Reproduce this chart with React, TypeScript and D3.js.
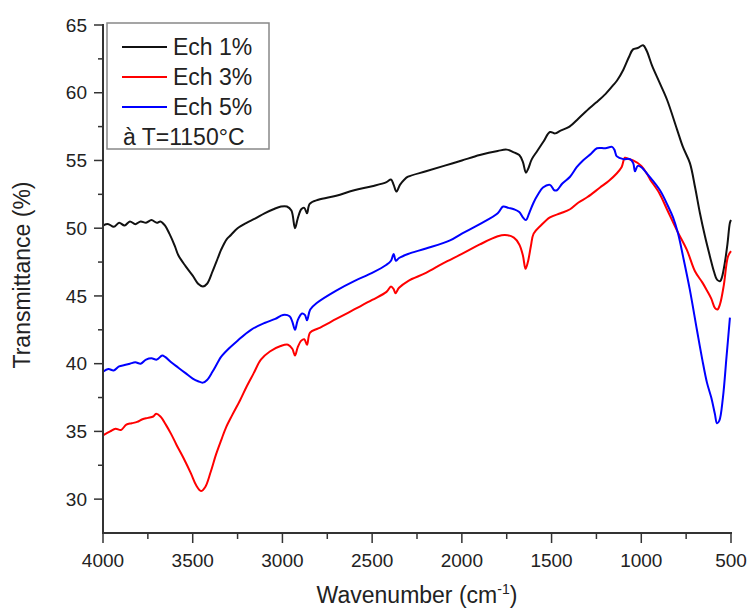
import React from "react";
import * as d3 from "d3";

// FTIR transmittance spectra: [wavenumber (cm-1), transmittance (%)]
const ech1: [number, number][] = [
  [4000, 50.2], [3970, 50.3], [3940, 50.1], [3910, 50.4], [3880, 50.2], [3850, 50.5], [3820, 50.3],
  [3790, 50.5], [3760, 50.4], [3730, 50.6], [3700, 50.4], [3680, 50.5], [3655, 50.2], [3630, 49.6],
  [3600, 48.7], [3580, 48.0], [3540, 47.2], [3500, 46.5], [3470, 45.9], [3443, 45.7], [3420, 45.9],
  [3390, 46.8], [3360, 47.8], [3342, 48.4], [3310, 49.2], [3287, 49.5], [3250, 50.0], [3200, 50.4],
  [3153, 50.7], [3100, 51.1], [3050, 51.4], [3008, 51.6], [2975, 51.6], [2950, 51.3], [2930, 50.0],
  [2915, 50.7], [2895, 51.4], [2878, 51.5], [2863, 51.1], [2848, 51.8], [2800, 52.1], [2700, 52.4],
  [2600, 52.8], [2500, 53.1], [2420, 53.4], [2395, 53.6], [2380, 53.2], [2365, 52.7], [2345, 53.2],
  [2320, 53.6], [2300, 53.8], [2200, 54.2], [2100, 54.6], [2000, 55.0], [1900, 55.4], [1800, 55.7],
  [1750, 55.8], [1710, 55.6], [1680, 55.4], [1660, 54.9], [1643, 54.1], [1630, 54.4], [1610, 55.1],
  [1580, 55.7], [1545, 56.4], [1509, 57.1], [1480, 57.0], [1450, 57.2], [1400, 57.5], [1350, 58.1],
  [1286, 58.9], [1250, 59.3], [1200, 59.9], [1160, 60.5], [1135, 60.9], [1100, 61.7], [1070, 62.6],
  [1046, 63.2], [1020, 63.3], [990, 63.5], [970, 63.1], [940, 62.0], [900, 60.8], [857, 59.5],
  [801, 57.3], [768, 56.0], [729, 54.8], [700, 53.0], [673, 51.1], [645, 49.4], [617, 47.9],
  [595, 46.8], [578, 46.2], [560, 46.1], [550, 46.4], [535, 47.4], [520, 48.8], [506, 50.4], [500, 50.6],
];

const ech3: [number, number][] = [
  [4000, 34.7], [3960, 35.0], [3930, 35.2], [3900, 35.1], [3870, 35.5], [3840, 35.6], [3810, 35.7],
  [3780, 35.9], [3750, 36.0], [3720, 36.1], [3704, 36.3], [3680, 36.1], [3650, 35.5], [3620, 34.8],
  [3590, 34.0], [3550, 33.0], [3510, 31.9], [3480, 31.0], [3454, 30.6], [3430, 30.9], [3400, 32.0],
  [3370, 33.3], [3340, 34.4], [3314, 35.3], [3280, 36.2], [3236, 37.3], [3200, 38.3], [3160, 39.3],
  [3120, 40.3], [3070, 40.9], [3010, 41.3], [2969, 41.4], [2945, 41.1], [2930, 40.6], [2915, 41.2],
  [2895, 41.7], [2878, 41.8], [2863, 41.4], [2846, 42.3], [2800, 42.6], [2700, 43.3], [2600, 44.0],
  [2500, 44.7], [2420, 45.3], [2395, 45.7], [2380, 45.5], [2370, 45.2], [2350, 45.6], [2300, 46.1],
  [2200, 46.7], [2105, 47.4], [2000, 48.1], [1900, 48.8], [1800, 49.4], [1760, 49.5], [1710, 49.3],
  [1680, 48.8], [1660, 48.0], [1645, 47.0], [1632, 47.5], [1615, 48.7], [1600, 49.6], [1560, 50.2],
  [1509, 50.8], [1450, 51.1], [1397, 51.4], [1350, 51.9], [1300, 52.3], [1230, 53.0], [1180, 53.5],
  [1140, 54.0], [1110, 54.5], [1091, 55.2], [1070, 55.1], [1046, 55.0], [1000, 54.6], [968, 54.0],
  [951, 53.6], [900, 52.6], [857, 51.4], [800, 49.8], [746, 48.4], [700, 46.8], [660, 46.0],
  [634, 45.4], [610, 44.8], [589, 44.1], [575, 44.0], [561, 44.4], [540, 45.8], [517, 47.9], [500, 48.3],
];

const ech5: [number, number][] = [
  [4000, 39.4], [3970, 39.6], [3940, 39.5], [3910, 39.8], [3880, 39.9], [3850, 40.0], [3820, 40.1],
  [3790, 40.0], [3760, 40.3], [3730, 40.4], [3700, 40.3], [3670, 40.6], [3654, 40.5], [3620, 40.1],
  [3580, 39.7], [3540, 39.3], [3500, 38.9], [3470, 38.7], [3443, 38.6], [3420, 38.8], [3390, 39.4],
  [3360, 40.1], [3342, 40.5], [3300, 41.1], [3250, 41.7], [3175, 42.5], [3100, 43.0], [3040, 43.3],
  [2997, 43.6], [2960, 43.5], [2945, 43.1], [2930, 42.5], [2915, 43.2], [2891, 43.7], [2875, 43.6],
  [2863, 43.2], [2845, 44.0], [2807, 44.5], [2700, 45.4], [2600, 46.1], [2500, 46.7], [2420, 47.3],
  [2395, 47.6], [2380, 48.1], [2368, 47.6], [2350, 47.8], [2300, 48.1], [2200, 48.5], [2066, 49.1],
  [2000, 49.6], [1900, 50.3], [1800, 51.1], [1770, 51.6], [1740, 51.5], [1710, 51.4], [1680, 51.2],
  [1660, 50.8], [1643, 50.6], [1625, 51.1], [1600, 51.9], [1575, 52.5], [1548, 53.0], [1509, 53.2],
  [1485, 52.8], [1470, 52.8], [1440, 53.3], [1397, 53.8], [1360, 54.5], [1325, 55.0], [1280, 55.5],
  [1247, 55.9], [1200, 55.9], [1163, 56.0], [1150, 55.8], [1136, 55.3], [1100, 55.1], [1063, 55.1],
  [1045, 54.8], [1035, 54.2], [1020, 54.6], [1000, 54.5], [960, 53.9], [896, 52.8], [850, 51.6],
  [823, 50.8], [795, 49.6], [767, 47.9], [730, 45.5], [690, 42.5], [660, 40.3], [634, 38.6],
  [610, 37.5], [590, 36.3], [578, 35.6], [565, 35.8], [545, 37.5], [525, 40.5], [506, 43.4],
];

const seriesNames = ["Ech 1%", "Ech 3%", "Ech 5%"];
const seriesColors = ["#111111", "#ff0000", "#0000ff"];
const legendNote = "à T=1150°C";

const xTicks = [4000, 3500, 3000, 2500, 2000, 1500, 1000, 500];
const xMinorTicks = [3750, 3250, 2750, 2250, 1750, 1250, 750];
const yTicks = [30, 35, 40, 45, 50, 55, 60, 65];
const yMinorTicks = [32.5, 37.5, 42.5, 47.5, 52.5, 57.5, 62.5];

const W = 748;
const H = 609;
const FONT = "'Liberation Sans', Arial, Helvetica, sans-serif";
const AXIS = "#333333";
const TEXT = "#222222";

export default function App() {
  const x = d3.scaleLinear().domain([4000, 500]).range([103, 731]);
  const y = d3.scaleLinear().domain([27.5, 65]).range([533, 25]);

  const line = d3
    .line<[number, number]>()
    .x((d) => x(d[0]))
    .y((d) => y(d[1]))
    .curve(d3.curveCatmullRom.alpha(0.5));

  const data = [ech1, ech3, ech5];
  const x0 = x(4000);
  const yBase = y(27.5);

  return (
    <svg
      width={W}
      height={H}
      style={{ position: "absolute", left: 0, top: 0, background: "#fff" }}
      fontFamily={FONT}
    >
      {/* spectra */}
      {data.map((d, i) => (
        <path
          key={i}
          d={line(d) || ""}
          fill="none"
          stroke={seriesColors[i]}
          strokeWidth={2}
          strokeLinejoin="round"
        />
      ))}

      {/* y axis */}
      <line x1={x0} x2={x0} y1={y(65) - 1} y2={yBase} stroke={AXIS} strokeWidth={2} />
      {yTicks.map((t) => (
        <g key={"y" + t}>
          <line x1={x0 - 9} x2={x0} y1={y(t)} y2={y(t)} stroke={AXIS} strokeWidth={1.5} />
          <text
            x={87}
            y={y(t)}
            dy="0.35em"
            textAnchor="end"
            fontSize={19}
            fill={TEXT}
          >
            {t}
          </text>
        </g>
      ))}
      {yMinorTicks.map((t) => (
        <line key={"ym" + t} x1={x0 - 5} x2={x0} y1={y(t)} y2={y(t)} stroke={AXIS} strokeWidth={1.5} />
      ))}

      {/* x axis */}
      <line x1={x0 - 1} x2={x(500) + 1} y1={yBase} y2={yBase} stroke={AXIS} strokeWidth={2} />
      {xTicks.map((t) => (
        <g key={"x" + t}>
          <line x1={x(t)} x2={x(t)} y1={yBase} y2={yBase + 10} stroke={AXIS} strokeWidth={1.5} />
          <text x={x(t)} y={567} textAnchor="middle" fontSize={19} fill={TEXT}>
            {t}
          </text>
        </g>
      ))}
      {xMinorTicks.map((t) => (
        <line key={"xm" + t} x1={x(t)} x2={x(t)} y1={yBase} y2={yBase + 6} stroke={AXIS} strokeWidth={1.5} />
      ))}

      {/* axis titles */}
      <text x={417} y={603} textAnchor="middle" fontSize={23} fill={TEXT}>
        Wavenumber (cm
        <tspan dy={-9} fontSize={14}>-1</tspan>
        <tspan dy={9}>)</tspan>
      </text>
      <text
        transform={`translate(30, 275) rotate(-90)`}
        textAnchor="middle"
        fontSize={23}
        fill={TEXT}
      >
        Transmittance (%)
      </text>

      {/* legend */}
      <rect x={107} y={23} width={162} height={126} fill="#fff" stroke="#888" strokeWidth={1.5} />
      {seriesNames.map((name, i) => (
        <g key={name}>
          <line
            x1={122}
            x2={167}
            y1={47 + i * 30}
            y2={47 + i * 30}
            stroke={seriesColors[i]}
            strokeWidth={2}
          />
          <text x={173} y={55 + i * 30} fontSize={23} fill={TEXT}>
            {name}
          </text>
        </g>
      ))}
      <text x={123} y={145} fontSize={23} fill={TEXT}>
        {legendNote}
      </text>
    </svg>
  );
}
